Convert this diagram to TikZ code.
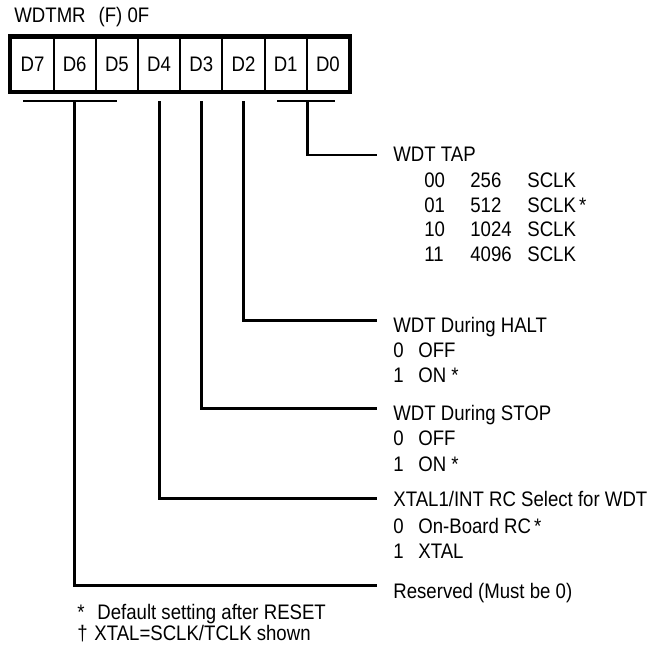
\documentclass[tikz,border=0pt]{standalone}
\usepackage{fontspec}
\setmainfont{Liberation Sans}
\usetikzlibrary{positioning}

\begin{document}
\begin{tikzpicture}[x=1pt, y=-1pt, line width=2.8pt,
  every node/.style={font=\fontsize{18.6}{20}\selectfont, inner sep=0pt, yscale=1.13},
  bitcell/.style={draw, line width=2pt, minimum width=42.2pt, minimum height=46.9pt},
  field/.style={anchor=base west},
  wire/.style={line width=2.8pt, shorten >=15.5pt}]
  \useasboundingbox (0,0) rectangle (661,648);
  % Register
  \node[field] (title) at (13,22.5) {WDTMR\hspace{13pt}(F) 0F};
  \foreach \b [count=\i from 0] in {7,...,0}
    \node[bitcell] (d\b) at (32.5+42.2*\i,64) {D\b};
  \draw[line width=4pt] (d7.north west) rectangle (d0.south east);
  % Bit groups
  \coordinate (brk) at (0,101);
  \draw (23,101) -- (117,101);
  \draw (277,101) -- (335,101);
  % WDT TAP
  \node[field] (tap) at (392,161.7) {WDT TAP};
  \foreach \code/\val/\mark [count=\i] in {00/256/, 01/512/\,*, 10/1024/, 11/4096/}
    \node[field] (tap\i) at (423,162.5+24.8*\i)
      {\makebox[46pt][l]{\code}\makebox[57pt][l]{\val}SCLK\mark};
  % During HALT / STOP
  \node[field] (halt) at (392,332.3) {WDT During HALT};
  \node[field] (halt0) at (392,357.3) {\makebox[25pt][l]{0}OFF};
  \node[field] (halt1) at (392,382.7) {\makebox[25pt][l]{1}ON *};
  \node[field] (stop) at (392,420) {WDT During STOP};
  \node[field] (stop0) at (392,445) {\makebox[25pt][l]{0}OFF};
  \node[field] (stop1) at (392,471) {\makebox[25pt][l]{1}ON *};
  % Clock source
  \node[field] (xtal) at (392,506) {XTAL1/INT RC Select for WDT};
  \node[field] (xtal0) at (392,533.3) {\makebox[25pt][l]{0}On-Board RC\,*};
  \node[field] (xtal1) at (392,558.3) {\makebox[25pt][l]{1}XTAL};
  \node[field] (rsvd) at (392,598.3) {Reserved (Must be 0)};
  % Connectors
  \draw[wire] (d1.east |- brk) |- ([yshift=6.7pt]tap.base west);
  \draw[wire] (d2 |- brk) |- ([yshift=11.6pt]halt.base west);
  \draw[wire] (d3 |- brk) |- ([yshift=11.7pt]stop.base west);
  \draw[wire] (d4 |- brk) |- ([yshift=7.7pt]xtal.base west);
  \draw[wire] (d6 |- brk) |- ([yshift=12.6pt]rsvd.base west);
  % Notes
  \node[field] (note1) at (76,619.3) {\makebox[20pt][l]{*}Default setting after RESET};
  \node[field] (note2) at (76,640.7) {\makebox[17pt][l]{\textdagger}XTAL=SCLK/TCLK shown};
\end{tikzpicture}
\end{document}
